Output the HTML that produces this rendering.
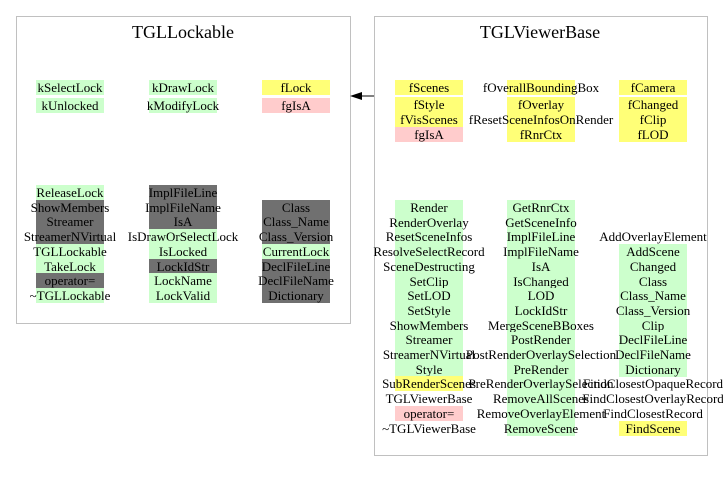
<!DOCTYPE html>
<html><head><meta charset="utf-8"><style>
body{margin:0;width:723px;height:481px;background:#fff;position:relative;overflow:hidden;font-family:"Liberation Serif",serif;color:#000}
.box{position:absolute;border:1px solid #c0c0c0;box-sizing:border-box}
.t{position:absolute;font-size:18px;text-align:center;width:200px}
.c{position:absolute;width:68px;height:15px;line-height:15px;font-size:13px;display:flex;justify-content:center;white-space:nowrap}
.g{background:#ccffcc}.d{background:#707070}.y{background:#ffff77}.p{background:#ffcccc}
</style></head><body>
<div class="box" style="left:16px;top:16px;width:335px;height:308px"></div>
<div class="box" style="left:374px;top:16px;width:334px;height:440px"></div>
<div class="t" style="left:83px;top:22px">TGLLockable</div>
<div class="t" style="left:440px;top:22px">TGLViewerBase</div>
<svg style="position:absolute;left:0;top:0" width="723" height="481"><line x1="352" y1="96" x2="374" y2="96" stroke="#000" stroke-width="1"/><polygon points="350,96 362,92 362,100" fill="#000"/></svg>

<div class="c g" style="left:36px;top:80px">kSelectLock</div>
<div class="c g" style="left:36px;top:98px">kUnlocked</div>
<div class="c g" style="left:149px;top:80px">kDrawLock</div>
<div class="c g" style="left:149px;top:98px">kModifyLock</div>
<div class="c y" style="left:262px;top:80px">fLock</div>
<div class="c p" style="left:262px;top:98px">fgIsA</div>

<div class="c g" style="left:36px;top:185px">ReleaseLock</div>
<div class="c d" style="left:36px;top:199.7px">ShowMembers</div>
<div class="c d" style="left:36px;top:214.4px">Streamer</div>
<div class="c d" style="left:36px;top:229.1px">StreamerNVirtual</div>
<div class="c g" style="left:36px;top:243.8px">TGLLockable</div>
<div class="c g" style="left:36px;top:258.5px">TakeLock</div>
<div class="c d" style="left:36px;top:273.2px">operator=</div>
<div class="c g" style="left:36px;top:287.9px">~TGLLockable</div>

<div class="c d" style="left:149px;top:185px">ImplFileLine</div>
<div class="c d" style="left:149px;top:199.7px">ImplFileName</div>
<div class="c d" style="left:149px;top:214.4px">IsA</div>
<div class="c g" style="left:149px;top:229.1px">IsDrawOrSelectLock</div>
<div class="c g" style="left:149px;top:243.8px">IsLocked</div>
<div class="c d" style="left:149px;top:258.5px">LockIdStr</div>
<div class="c g" style="left:149px;top:273.2px">LockName</div>
<div class="c g" style="left:149px;top:287.9px">LockValid</div>

<div class="c d" style="left:262px;top:199.7px">Class</div>
<div class="c d" style="left:262px;top:214.4px">Class_Name</div>
<div class="c d" style="left:262px;top:229.1px">Class_Version</div>
<div class="c g" style="left:262px;top:243.8px">CurrentLock</div>
<div class="c d" style="left:262px;top:258.5px">DeclFileLine</div>
<div class="c d" style="left:262px;top:273.2px">DeclFileName</div>
<div class="c d" style="left:262px;top:287.9px">Dictionary</div>

<div class="c y" style="left:395px;top:80px">fScenes</div>
<div class="c y" style="left:395px;top:97px">fStyle</div>
<div class="c y" style="left:395px;top:112px">fVisScenes</div>
<div class="c p" style="left:395px;top:127px">fgIsA</div>
<div class="c y" style="left:507px;top:80px">fOverallBoundingBox</div>
<div class="c y" style="left:507px;top:97px">fOverlay</div>
<div class="c y" style="left:507px;top:112px">fResetSceneInfosOnRender</div>
<div class="c y" style="left:507px;top:127px">fRnrCtx</div>
<div class="c y" style="left:619px;top:80px">fCamera</div>
<div class="c y" style="left:619px;top:97px">fChanged</div>
<div class="c y" style="left:619px;top:112px">fClip</div>
<div class="c y" style="left:619px;top:127px">fLOD</div>

<div class="c g" style="left:395px;top:200px">Render</div>
<div class="c g" style="left:395px;top:214.7px">RenderOverlay</div>
<div class="c g" style="left:395px;top:229.4px">ResetSceneInfos</div>
<div class="c g" style="left:395px;top:244.1px">ResolveSelectRecord</div>
<div class="c g" style="left:395px;top:258.8px">SceneDestructing</div>
<div class="c g" style="left:395px;top:273.5px">SetClip</div>
<div class="c g" style="left:395px;top:288.2px">SetLOD</div>
<div class="c g" style="left:395px;top:302.9px">SetStyle</div>
<div class="c g" style="left:395px;top:317.6px">ShowMembers</div>
<div class="c g" style="left:395px;top:332.3px">Streamer</div>
<div class="c g" style="left:395px;top:347px">StreamerNVirtual</div>
<div class="c g" style="left:395px;top:361.7px">Style</div>
<div class="c y" style="left:395px;top:376.4px">SubRenderScenes</div>
<div class="c" style="left:395px;top:391.1px">TGLViewerBase</div>
<div class="c p" style="left:395px;top:405.8px">operator=</div>
<div class="c" style="left:395px;top:420.5px">~TGLViewerBase</div>

<div class="c g" style="left:507px;top:200px">GetRnrCtx</div>
<div class="c g" style="left:507px;top:214.7px">GetSceneInfo</div>
<div class="c g" style="left:507px;top:229.4px">ImplFileLine</div>
<div class="c g" style="left:507px;top:244.1px">ImplFileName</div>
<div class="c g" style="left:507px;top:258.8px">IsA</div>
<div class="c g" style="left:507px;top:273.5px">IsChanged</div>
<div class="c g" style="left:507px;top:288.2px">LOD</div>
<div class="c g" style="left:507px;top:302.9px">LockIdStr</div>
<div class="c g" style="left:507px;top:317.6px">MergeSceneBBoxes</div>
<div class="c g" style="left:507px;top:332.3px">PostRender</div>
<div class="c g" style="left:507px;top:347px">PostRenderOverlaySelection</div>
<div class="c g" style="left:507px;top:361.7px">PreRender</div>
<div class="c g" style="left:507px;top:376.4px">PreRenderOverlaySelection</div>
<div class="c g" style="left:507px;top:391.1px">RemoveAllScenes</div>
<div class="c g" style="left:507px;top:405.8px">RemoveOverlayElement</div>
<div class="c g" style="left:507px;top:420.5px">RemoveScene</div>

<div class="c" style="left:619px;top:229.4px">AddOverlayElement</div>
<div class="c g" style="left:619px;top:244.1px">AddScene</div>
<div class="c g" style="left:619px;top:258.8px">Changed</div>
<div class="c g" style="left:619px;top:273.5px">Class</div>
<div class="c g" style="left:619px;top:288.2px">Class_Name</div>
<div class="c g" style="left:619px;top:302.9px">Class_Version</div>
<div class="c g" style="left:619px;top:317.6px">Clip</div>
<div class="c g" style="left:619px;top:332.3px">DeclFileLine</div>
<div class="c g" style="left:619px;top:347px">DeclFileName</div>
<div class="c g" style="left:619px;top:361.7px">Dictionary</div>
<div class="c" style="left:619px;top:376.4px">FindClosestOpaqueRecord</div>
<div class="c" style="left:619px;top:391.1px">FindClosestOverlayRecord</div>
<div class="c" style="left:619px;top:405.8px">FindClosestRecord</div>
<div class="c y" style="left:619px;top:420.5px">FindScene</div>
</body></html>
